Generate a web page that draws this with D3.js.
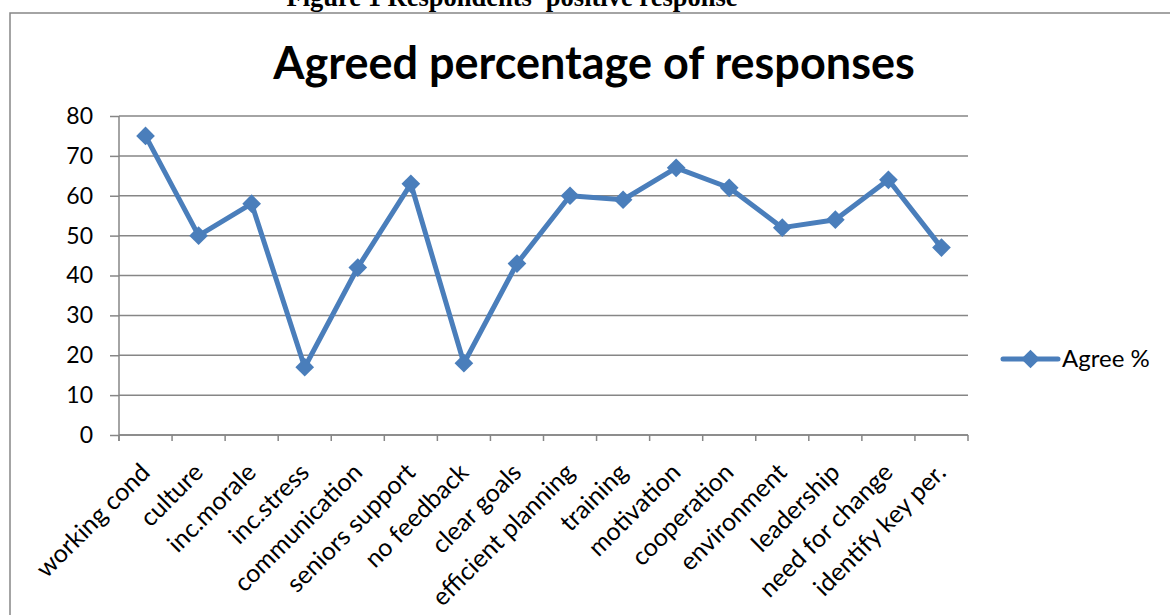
<!DOCTYPE html>
<html>
<head>
<meta charset="utf-8">
<script src="https://cdn.jsdelivr.net/npm/d3@7"></script>
<style>
  body { margin: 0; background: #fff; }
  text { font-family: Lato, "Open Sans", sans-serif; fill: #000; }
</style>
</head>
<body>
<svg id="chart"></svg>
<script>
var W = 1170, H = 615;

// chart data
var categories = ["working cond", "culture", "inc.morale", "inc.stress", "communication",
  "seniors support", "no feedback", "clear goals", "efficient planning", "training",
  "motivation", "cooperation", "environment", "leadership", "need for change", "identify key per."];
var agreeValues = [75, 50, 58, 17, 42, 63, 18, 43, 60, 59, 67, 62, 52, 54, 64, 47];
var yTicks = [0, 10, 20, 30, 40, 50, 60, 70, 80];
var seriesName = "Agree %";

var data = categories.map((c, i) => ({cat: c, val: agreeValues[i]}));

var svg = d3.select("#chart")
    .attr("width", W)
    .attr("height", H);

var blue = "#4a7ebb";
var grey = "#868686";

// chart frame (runs off the page to the right and bottom)
svg.append("rect")
    .attr("x", 10)
    .attr("y", 13)
    .attr("width", 1200)
    .attr("height", 700)
    .attr("fill", "none")
    .attr("stroke", grey)
    .attr("stroke-width", 1.5);

// figure caption, cut at top
svg.append("text")
    .attr("x", 512)
    .attr("y", 6)
    .attr("text-anchor", "middle")
    .style("font-family", "'Liberation Serif', serif")
    .style("font-weight", "bold")
    .style("font-size", "26.5px")
    .text("Figure 1 Respondents' positive response");

// title
svg.append("text")
    .attr("x", 594)
    .attr("y", 79)
    .attr("text-anchor", "middle")
    .style("font-weight", "bold")
    .style("font-size", "45px")
    .text("Agreed percentage of responses");

var pLeft = 119, pRight = 968, pTop = 116, pBottom = 435;

var x = d3.scaleBand()
    .domain(categories)
    .range([pLeft, pRight]);

var y = d3.scaleLinear()
    .domain([0, 80])
    .range([pBottom, pTop]);

// gridlines
svg.append("g")
    .selectAll("line")
    .data(yTicks)
    .join("line")
    .attr("x1", pLeft)
    .attr("x2", pRight)
    .attr("y1", d => y(d))
    .attr("y2", d => y(d))
    .attr("stroke", grey)
    .attr("stroke-width", 1.5);

// y axis
var yAxis = svg.append("g")
    .attr("transform", `translate(${pLeft},0)`)
    .call(d3.axisLeft(y).tickValues(yTicks).tickSize(9).tickPadding(17));
yAxis.selectAll("line, path").attr("stroke", grey).attr("stroke-width", 1.5);
yAxis.select(".domain").attr("d", `M0,${pTop}V${pBottom + 6}`);
yAxis.selectAll("text")
    .style("font-family", "Lato, sans-serif")
    .style("font-size", "23px")
    .attr("fill", "#000");

// x axis: ticks at band edges
var edges = categories.map(c => x(c)).concat([pRight]);
var xAxis = svg.append("g");
xAxis.append("line")
    .attr("x1", pLeft).attr("x2", pRight)
    .attr("y1", pBottom).attr("y2", pBottom)
    .attr("stroke", grey).attr("stroke-width", 1.5);
xAxis.selectAll(".tk")
    .data(edges)
    .join("line")
    .attr("class", "tk")
    .attr("x1", d => d).attr("x2", d => d)
    .attr("y1", pBottom).attr("y2", pBottom + 6)
    .attr("stroke", grey).attr("stroke-width", 1.5);

// rotated category labels
svg.append("g")
    .selectAll("text")
    .data(categories)
    .join("text")
    .attr("transform", d => `translate(${x(d) + x.bandwidth() / 2 + 6},${pBottom + 39}) rotate(-45)`)
    .attr("text-anchor", "end")
    .style("font-size", "25px")
    .text(d => d);

// series line
var line = d3.line()
    .x(d => x(d.cat) + x.bandwidth() / 2)
    .y(d => y(d.val));

svg.append("path")
    .datum(data)
    .attr("fill", "none")
    .attr("stroke", blue)
    .attr("stroke-width", 5)
    .attr("stroke-linejoin", "round")
    .attr("d", line);

// diamond markers
var diamond = d3.symbol(d3.symbolSquare, 175);
svg.append("g")
    .selectAll("path")
    .data(data)
    .join("path")
    .attr("transform", d => `translate(${x(d.cat) + x.bandwidth() / 2},${y(d.val)}) rotate(45)`)
    .attr("d", diamond)
    .attr("fill", blue);

// legend
var lg = svg.append("g").attr("transform", "translate(1003,359)");
lg.append("line")
    .attr("x1", 0).attr("x2", 55)
    .attr("stroke", blue)
    .attr("stroke-width", 5)
    .attr("stroke-linecap", "round");
lg.append("path")
    .attr("transform", "translate(27.5,0) rotate(45)")
    .attr("d", diamond)
    .attr("fill", blue);
lg.append("text")
    .attr("x", 59)
    .attr("y", 8)
    .style("font-size", "24px")
    .text(seriesName);
</script>
</body>
</html>
